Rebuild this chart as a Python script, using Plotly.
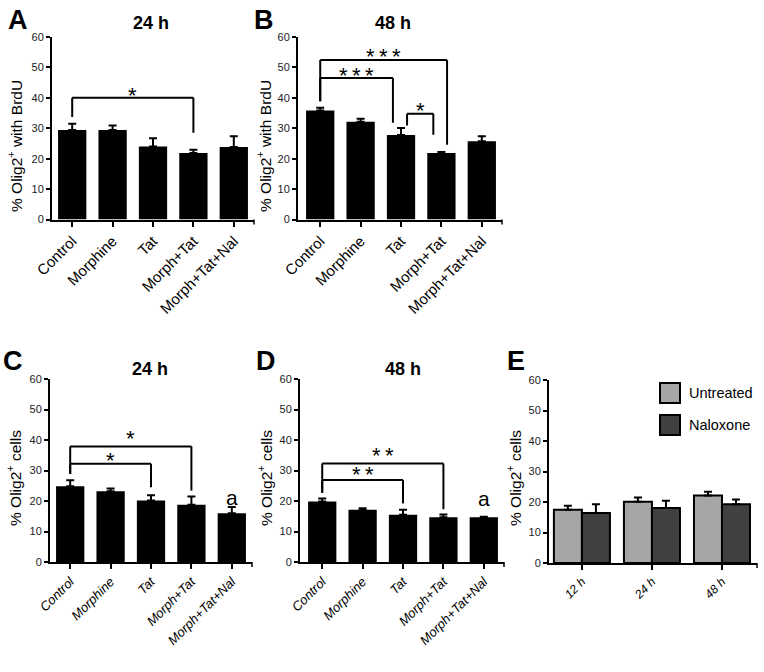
import plotly.graph_objects as go

W, H = 764, 672

# ---------------- data ----------------
categories = ["Control", "Morphine", "Tat", "Morph+Tat", "Morph+Tat+Nal"]

a_mean = [29.4, 29.4, 24.0, 21.9, 23.8]
a_err = [2.1, 1.5, 2.7, 1.0, 3.6]

b_mean = [35.8, 32.1, 27.8, 21.9, 25.7]
b_err = [0.9, 1.0, 2.3, 0.3, 1.7]

c_mean = [24.8, 23.2, 20.2, 18.8, 16.0]
c_err = [2.0, 0.9, 1.7, 2.7, 2.0]

d_mean = [19.8, 17.1, 15.5, 14.7, 14.7]
d_err = [1.0, 0.5, 1.6, 0.9, 0.15]

e_times = ["12 h", "24 h", "48 h"]
e_untreated = [17.5, 20.1, 22.1]
e_untreated_err = [1.3, 1.4, 1.3]
e_naloxone = [16.4, 18.0, 19.3]
e_naloxone_err = [2.9, 2.4, 1.5]

y_ticks = [0, 10, 20, 30, 40, 50, 60]

# significance brackets: (x_left, x_right, y_bar, y_left_leg_end, y_right_leg_end, label, label_y)
S3 = "*\u2009*\u2009*"
S2 = "*\u2009*"
a_brackets = [(0, 3, 40.0, 33.7, 28.5, "*", 42.4)]
b_brackets = [(0, 3.14, 52.4, 38.9, 24.6, S3, 55.3),
              (0, 1.8, 46.5, 38.9, 31.8, S3, 49.0),
              (2.15, 2.8, 34.8, 30.9, 27.9, "*", 37.5)]
c_brackets = [(0, 3, 37.9, 28.9, 23.4, "*", 42.2),
              (0, 2, 32.2, 28.9, 24.5, "*", 35.0)]
d_brackets = [(0, 3, 32.3, 22.7, 17.3, S2, 36.4),
              (0, 2, 26.9, 22.7, 19.2, S2, 30.2)]

FONT = "Liberation Sans, Arial, Helvetica, sans-serif"

fig = go.Figure()


def px_x(p):
    return p / W


def px_y(p):
    return 1 - p / H


panels = [
    dict(k="", mean=a_mean, err=a_err, br=a_brackets, xd=(52, 254), yd=(37, 219.5), xr=(-0.5, 4.5),
         title="24 h", tpos=(151, 23), letter="A", lpos=(18, 20), ytitle="% Olig2<sup>+</sup> with BrdU",
         ytx=15, yty=146, italic=False, anno=None),
    dict(k="2", mean=b_mean, err=b_err, br=b_brackets, xd=(298, 502), yd=(37, 219.5), xr=(-0.55, 4.5),
         title="48 h", tpos=(393, 23), letter="B", lpos=(264, 20), ytitle="% Olig2<sup>+</sup> with BrdU",
         ytx=264, yty=146, italic=False, anno=None),
    dict(k="3", mean=c_mean, err=c_err, br=c_brackets, xd=(50, 252), yd=(379, 562), xr=(-0.5, 4.5),
         title="24 h", tpos=(150, 369), letter="C", lpos=(13, 361), ytitle="% Olig2<sup>+</sup> cells",
         ytx=14, yty=478, italic=True, anno=("a", 4, 19.5)),
    dict(k="4", mean=d_mean, err=d_err, br=d_brackets, xd=(300, 504), yd=(379, 562), xr=(-0.55, 4.5),
         title="48 h", tpos=(403, 369), letter="D", lpos=(266, 361), ytitle="% Olig2<sup>+</sup> cells",
         ytx=265, yty=478, italic=True, anno=("a", 4, 19.2)),
]

layout_axes = {}
annotations = []
shapes = []


def end_tick(xpx, ypx):
    shapes.append(dict(type="line", xref="paper", yref="paper", x0=px_x(xpx), x1=px_x(xpx),
                       y0=px_y(ypx), y1=px_y(ypx + 5), line=dict(color="black", width=1.5)))


for p in panels:
    k = p["k"]
    xs = list(range(len(categories)))
    fig.add_trace(go.Bar(
        x=xs, y=p["mean"], width=0.7, marker=dict(color="black", line=dict(width=0)),
        error_y=dict(type="data", array=p["err"], arrayminus=[0] * len(xs), symmetric=False,
                     color="black", thickness=2, width=4),
        xaxis="x" + k, yaxis="y" + k, showlegend=False, hoverinfo="skip"))
    tickfont = dict(family=FONT, size=15 if not p["italic"] else 13, color="black")
    if p["italic"]:
        tickfont["style"] = "italic"
    layout_axes["xaxis" + k] = dict(
        domain=[px_x(p["xd"][0]), px_x(p["xd"][1])], range=list(p["xr"]), anchor="y" + k,
        tickvals=xs, ticktext=categories, tickangle=-45, tickfont=tickfont, automargin=False,
        showline=True, linecolor="black", linewidth=2, ticks="outside", ticklen=5, tickwidth=1.5,
        tickcolor="black", showgrid=False, zeroline=False, fixedrange=True)
    layout_axes["yaxis" + k] = dict(
        domain=[px_y(p["yd"][1]), px_y(p["yd"][0])], range=[0, 60], anchor="x" + k,
        tickvals=y_ticks, tickfont=dict(family=FONT, size=11, color="#222"), automargin=False,
        showline=True, linecolor="black", linewidth=2, ticks="outside", ticklen=4, tickwidth=1.5,
        tickcolor="black", showgrid=False, zeroline=False, fixedrange=True)
    end_tick(p["xd"][1], p["yd"][1])
    xr, yr = "x" + k, "y" + k
    for (x0, x1, yb, yl0, yl1, lab, ly) in p["br"]:
        for (ax0, ay0, ax1, ay1) in [(x0, yl0, x0, yb), (x0, yb, x1, yb), (x1, yb, x1, yl1)]:
            shapes.append(dict(type="line", xref=xr, yref=yr, x0=ax0, y0=ay0, x1=ax1, y1=ay1,
                               line=dict(color="black", width=2)))
        annotations.append(dict(text=lab, xref=xr, yref=yr, x=(x0 + x1) / 2, y=ly, showarrow=False,
                                xanchor="center", yanchor="middle", yshift=-5,
                                font=dict(family=FONT, size=22, color="black")))
    if p["anno"]:
        t, ax, ay = p["anno"]
        annotations.append(dict(text=t, xref=xr, yref=yr, x=ax, y=ay, showarrow=False,
                                xanchor="center", yanchor="middle", yshift=5,
                                font=dict(family=FONT, size=21, color="black")))
    annotations.append(dict(text="<b>" + p["title"] + "</b>", xref="paper", yref="paper",
                            x=px_x(p["tpos"][0]), y=px_y(p["tpos"][1]), showarrow=False,
                            xanchor="center", yanchor="middle",
                            font=dict(family=FONT, size=18, color="black")))
    annotations.append(dict(text="<b>" + p["letter"] + "</b>", xref="paper", yref="paper",
                            x=px_x(p["lpos"][0]), y=px_y(p["lpos"][1]), showarrow=False,
                            xanchor="center", yanchor="middle",
                            font=dict(family=FONT, size=27, color="black")))
    annotations.append(dict(text=p["ytitle"], xref="paper", yref="paper", textangle=-90,
                            x=px_x(p["ytx"]), y=px_y(p["yty"]), showarrow=False,
                            xanchor="center", yanchor="middle",
                            font=dict(family=FONT, size=15.5, color="black")))

# ---------------- panel E ----------------
ex = list(range(len(e_times)))
fig.add_trace(go.Bar(
    x=ex, y=e_untreated, width=0.4, offset=-0.4, name="Untreated",
    marker=dict(color="#a6a6a6", line=dict(color="black", width=2)),
    error_y=dict(type="data", array=e_untreated_err, arrayminus=[0] * 3, symmetric=False,
                 color="black", thickness=2, width=4),
    xaxis="x5", yaxis="y5", showlegend=False, hoverinfo="skip"))
fig.add_trace(go.Bar(
    x=ex, y=e_naloxone, width=0.4, offset=0.0, name="Naloxone",
    marker=dict(color="#404040", line=dict(color="black", width=2)),
    error_y=dict(type="data", array=e_naloxone_err, arrayminus=[0] * 3, symmetric=False,
                 color="black", thickness=2, width=4),
    xaxis="x5", yaxis="y5", showlegend=False, hoverinfo="skip"))

layout_axes["xaxis5"] = dict(
    domain=[px_x(549), px_x(757)], range=[-0.47, 2.5], anchor="y5",
    tickvals=ex, ticktext=e_times, tickangle=-45, automargin=False,
    tickfont=dict(family=FONT, size=12, color="black", style="italic"),
    showline=True, linecolor="black", linewidth=2, ticks="outside", ticklen=5, tickwidth=1.5,
    tickcolor="black", showgrid=False, zeroline=False, fixedrange=True)
layout_axes["yaxis5"] = dict(
    domain=[px_y(563), px_y(380)], range=[0, 60], anchor="x5", automargin=False,
    tickvals=y_ticks, tickfont=dict(family=FONT, size=11, color="#222"),
    showline=True, linecolor="black", linewidth=2, ticks="outside", ticklen=4, tickwidth=1.5,
    tickcolor="black", showgrid=False, zeroline=False, fixedrange=True)
end_tick(757, 563)

annotations.append(dict(text="<b>E</b>", xref="paper", yref="paper", x=px_x(516), y=px_y(361),
                        showarrow=False, xanchor="center", yanchor="middle",
                        font=dict(family=FONT, size=27, color="black")))
annotations.append(dict(text="% Olig2<sup>+</sup> cells", xref="paper", yref="paper", textangle=-90,
                        x=px_x(514), y=px_y(478), showarrow=False, xanchor="center", yanchor="middle",
                        font=dict(family=FONT, size=15.5, color="black")))

# legend for E
legend_items = [("Untreated", "#a6a6a6", 393), ("Naloxone", "#404040", 425)]
for name, col, yc in legend_items:
    shapes.append(dict(type="rect", xref="paper", yref="paper",
                       x0=px_x(660), x1=px_x(680), y0=px_y(yc + 10), y1=px_y(yc - 10),
                       fillcolor=col, line=dict(color="black", width=2)))
    annotations.append(dict(text=name, xref="paper", yref="paper", x=px_x(687), y=px_y(yc),
                            showarrow=False, xanchor="left", yanchor="middle",
                            font=dict(family=FONT, size=14.5, color="black")))

fig.update_layout(
    width=W, height=H, margin=dict(l=0, r=0, t=0, b=0, autoexpand=False),
    paper_bgcolor="white", plot_bgcolor="white",
    barmode="overlay", showlegend=False,
    annotations=annotations, shapes=shapes,
    **layout_axes)

fig.write_html("out.html", config={"displayModeBar": False},
               post_script="document.body.style.margin='0';document.body.style.overflow='hidden';")
